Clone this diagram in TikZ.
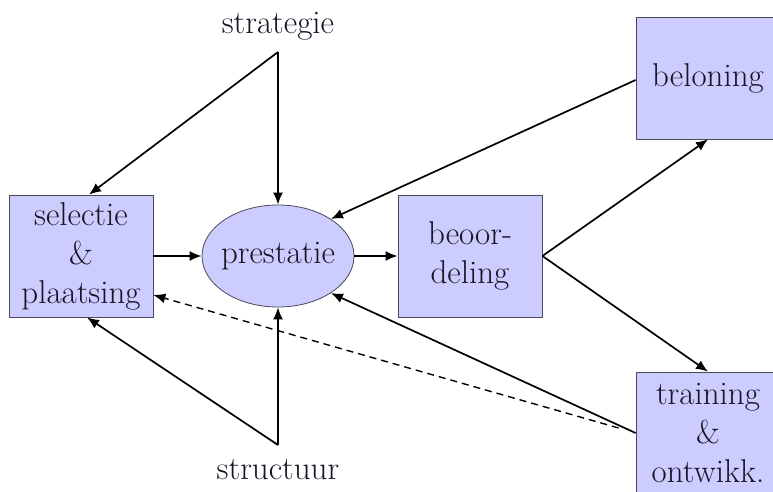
\documentclass[tikz,border=0pt]{standalone}
\usetikzlibrary{shapes.geometric,arrows.meta}
\definecolor{boxfill}{HTML}{CCCCFF}
\definecolor{boxline}{HTML}{4A4A5A}
\definecolor{ink}{HTML}{161626}
\begin{document}
\begin{tikzpicture}[x=1pt,y=-1pt,
  every node/.style={font=\fontsize{33}{39}\selectfont, text=ink},
  blok/.style={draw=boxline, line width=0.8pt, fill=boxfill, rectangle,
    minimum width=144pt, minimum height=122pt, inner sep=0pt, align=center},
  ovaal/.style={draw=boxline, line width=0.8pt, fill=boxfill, ellipse,
    minimum width=152pt, minimum height=102pt, inner sep=0pt},
  pijl/.style={line width=1.7pt, -{Latex[length=12pt,width=10pt]}},
  stippel/.style={line width=1.4pt, dashed, dash pattern=on 7pt off 5pt,
    -{Latex[length=12pt,width=10pt]}}]
  \useasboundingbox (0,0) rectangle (773,491);
  \begin{scope}
  \clip (0,0) rectangle (773,491);

  % nodes (the ellipse keeps its fixed size: the label is set in a zero-width box)
  \node[blok] (sel) at (81,256) {selectie\\\&\\plaatsing};
  \node[ovaal] (pre) at (278,256) {\makebox[0pt]{prestatie}};
  \node[blok] (beo) at (470,256) {beoor-\\deling};
  \node[blok] (bel) at (708,78) {beloning};
  \node[blok] (tra) at (708,433) {training\\\&\\ontwikk.};
  \node (strat) at (278,26) {strategie};
  \node (struc) at (278,469) {structuur};

  \coordinate (sA) at (278,52);
  \coordinate (sB) at (278,445);

  % strategie and structuur
  \draw[pijl] (sA) -- ([xshift=8pt]sel.north);
  \draw[pijl] (sA) -- (pre.north);
  \draw[pijl] (sB) -- (pre.south);
  \draw[pijl] (sB) -- ([xshift=6pt]sel.south);

  % main flow
  \draw[pijl] (sel.east) -- (pre.west);
  \draw[pijl] (pre.east) -- (beo.west);
  \draw[pijl] (beo.east) -- (bel.south);
  \draw[pijl] (beo.east) -- (tra.north);

  % feedback
  \draw[pijl] ([yshift=-2pt]bel.west) -- (pre.35);
  \draw[pijl] (tra.west) -- (pre.-35);
  \draw[stippel] ([xshift=-17pt,yshift=5pt]tra.west) -- ([yshift=-39pt]sel.east);
  \end{scope}
\end{tikzpicture}
\end{document}
